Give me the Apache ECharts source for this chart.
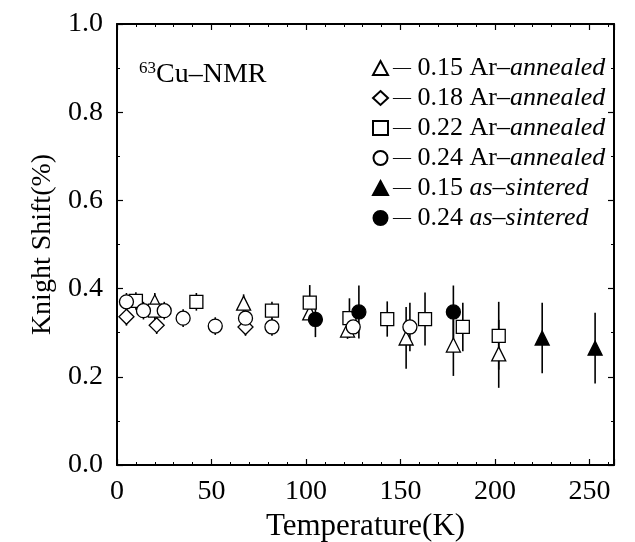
<!DOCTYPE html>
<html>
<head>
<meta charset="utf-8">
<script src="https://cdn.jsdelivr.net/npm/echarts@6/dist/echarts.min.js"></script>
<style>
  html, body { margin: 0; padding: 0; background: #fff; }
  #chart { width: 635px; height: 542px; }
</style>
</head>
<body>
<div id="chart"></div>
<script>
// [T(K), shift(%), error]
var arTri015 = [[20, 0.370, 0.02], [67, 0.367, 0.02], [102, 0.345, 0.02], [122, 0.306, 0.02],
                [153, 0.288, 0.07], [178, 0.272, 0.07], [202, 0.252, 0.077]];
var arDia018 = [[5, 0.336, 0.02], [21, 0.317, 0.02], [68, 0.313, 0.02]];
var arSq022 = [[10, 0.372, 0.02], [20, 0.350, 0.02], [42, 0.370, 0.02], [82, 0.350, 0.02],
               [102, 0.368, 0.04], [123, 0.333, 0.045], [143, 0.331, 0.04], [163, 0.331, 0.06],
               [183, 0.313, 0.055], [202, 0.293, 0.077]];
var arCirc024 = [[5, 0.370, 0.02], [14, 0.350, 0.02], [25, 0.350, 0.02], [35, 0.333, 0.02],
                 [52, 0.315, 0.02], [68, 0.333, 0.02], [82, 0.313, 0.02], [125, 0.313, 0.02],
                 [155, 0.313, 0.055]];
var sinTri015 = [[225, 0.288, 0.08], [253, 0.265, 0.08]];
var sinCirc024 = [[105, 0.330, 0.04], [128, 0.347, 0.06], [178, 0.347, 0.06]];

var xTicks = [0, 50, 100, 150, 200, 250];
var yTicks = [0.0, 0.2, 0.4, 0.6, 0.8, 1.0];

var FONT = 'Liberation Serif';

var groups = [
  {name: '0.15 Ar-annealed', data: arTri015, symbol: 'triangle', filled: false, size: 14},
  {name: '0.18 Ar-annealed', data: arDia018, symbol: 'diamond', filled: false, size: 15},
  {name: '0.22 Ar-annealed', data: arSq022, symbol: 'rect', filled: false, size: 13},
  {name: '0.24 Ar-annealed', data: arCirc024, symbol: 'circle', filled: false, size: 14},
  {name: '0.15 as-sintered', data: sinTri015, symbol: 'triangle', filled: true, size: 14},
  {name: '0.24 as-sintered', data: sinCirc024, symbol: 'circle', filled: true, size: 14}
];

function errorBars(item) {
  return {
    type: 'custom',
    xAxisIndex: 0, yAxisIndex: 0,
    silent: true,
    z: 1,
    data: item.data,
    renderItem: function (params, api) {
      var x = api.value(0), y = api.value(1), e = api.value(2);
      var lo = api.coord([x, y - e]);
      var hi = api.coord([x, y + e]);
      return {
        type: 'line',
        shape: {x1: lo[0], y1: lo[1], x2: hi[0], y2: hi[1]},
        style: {stroke: '#000', lineWidth: 1.6}
      };
    }
  };
}

var series = [];
groups.forEach(function (g) {
  series.push(errorBars(g));
});
groups.forEach(function (g) {
  series.push({
    name: g.name,
    type: 'scatter',
    xAxisIndex: 0, yAxisIndex: 0,
    z: 3,
    symbol: g.symbol,
    symbolSize: g.size,
    data: g.data.map(function (d) { return [d[0], d[1]]; }),
    itemStyle: {
      color: g.filled ? '#000' : '#fff',
      borderColor: '#000',
      borderWidth: 1.3,
      opacity: 1
    }
  });
});

// onZero off, otherwise the top/right axes collapse onto the bottom/left ones
var lineOn = {show: true, onZero: false, lineStyle: {color: '#000', width: 2}};
var tickIn = {show: true, inside: true, length: 6, lineStyle: {color: '#000', width: 1.2}};
function minor(n) {
  return {show: true, splitNumber: n, length: 3, lineStyle: {color: '#000', width: 1}};
}

var chart = echarts.init(document.getElementById('chart'));
chart.setOption({
  backgroundColor: '#fff',
  animation: false,
  grid: {left: 117, right: 21, top: 24, bottom: 77, outerBoundsMode: 'none'},
  legend: {
    orient: 'vertical',
    left: 367,
    top: 50,
    itemWidth: 15,
    itemHeight: 14,
    itemGap: 4,
    selectedMode: false,
    data: groups.map(function (g) { return g.name; }),
    formatter: function (name) {
      var parts = name.split(' ');
      if (parts[1] === 'Ar-annealed') {
        return '{d|\u2014} {n|' + parts[0] + ' Ar\u2013}{i|annealed}';
      }
      return '{d|\u2014} {n|' + parts[0] + ' }{i|as\u2013sintered}';
    },
    textStyle: {
      fontFamily: FONT, fontSize: 26, color: '#000', lineHeight: 24,
      rich: {
        d: {fontFamily: FONT, fontSize: 18, color: '#000', lineHeight: 24},
        n: {fontFamily: FONT, fontSize: 26, color: '#000', lineHeight: 24},
        i: {fontFamily: FONT, fontSize: 26, color: '#000', fontStyle: 'italic', lineHeight: 24}
      }
    }
  },
  xAxis: [
    {
      type: 'value', position: 'bottom', min: 0, max: 263, interval: 50,
      axisLine: lineOn, axisTick: tickIn, minorTick: minor(5), splitLine: {show: false},
      name: 'Temperature(K)', nameLocation: 'middle', nameGap: 43,
      nameTextStyle: {fontFamily: FONT, fontSize: 31, color: '#000'},
      axisLabel: {
        fontFamily: FONT, fontSize: 28, color: '#000', margin: 13,
        formatter: function (v) { return xTicks.indexOf(v) >= 0 ? String(v) : ''; }
      }
    },
    {
      type: 'value', position: 'top', min: 0, max: 263, interval: 50,
      axisLine: lineOn, axisTick: tickIn, minorTick: minor(5), splitLine: {show: false},
      axisLabel: {show: false}
    }
  ],
  yAxis: [
    {
      type: 'value', position: 'left', min: 0, max: 1.0, interval: 0.2,
      axisLine: lineOn, axisTick: tickIn, minorTick: minor(2), splitLine: {show: false},
      name: 'Knight Shift(%)', nameLocation: 'middle', nameGap: 56,
      nameTextStyle: {fontFamily: FONT, fontSize: 28, color: '#000'},
      axisLabel: {
        fontFamily: FONT, fontSize: 28, color: '#000', margin: 14,
        formatter: function (v) {
          var i = yTicks.findIndex(function (t) { return Math.abs(t - v) < 1e-6; });
          return i >= 0 ? yTicks[i].toFixed(1) : '';
        }
      }
    },
    {
      type: 'value', position: 'right', min: 0, max: 1.0, interval: 0.2,
      axisLine: lineOn, axisTick: tickIn, minorTick: minor(2), splitLine: {show: false},
      axisLabel: {show: false}
    }
  ],
  graphic: [{
    type: 'text',
    left: 139,
    top: 60,
    style: {
      text: '{s|63}{m|Cu\u2013NMR}',
      rich: {
        s: {fontFamily: FONT, fontSize: 17, color: '#000', verticalAlign: 'top', padding: [0, 0, 12, 0]},
        m: {fontFamily: FONT, fontSize: 28, color: '#000'}
      }
    }
  }],
  series: series
});
</script>
</body>
</html>
